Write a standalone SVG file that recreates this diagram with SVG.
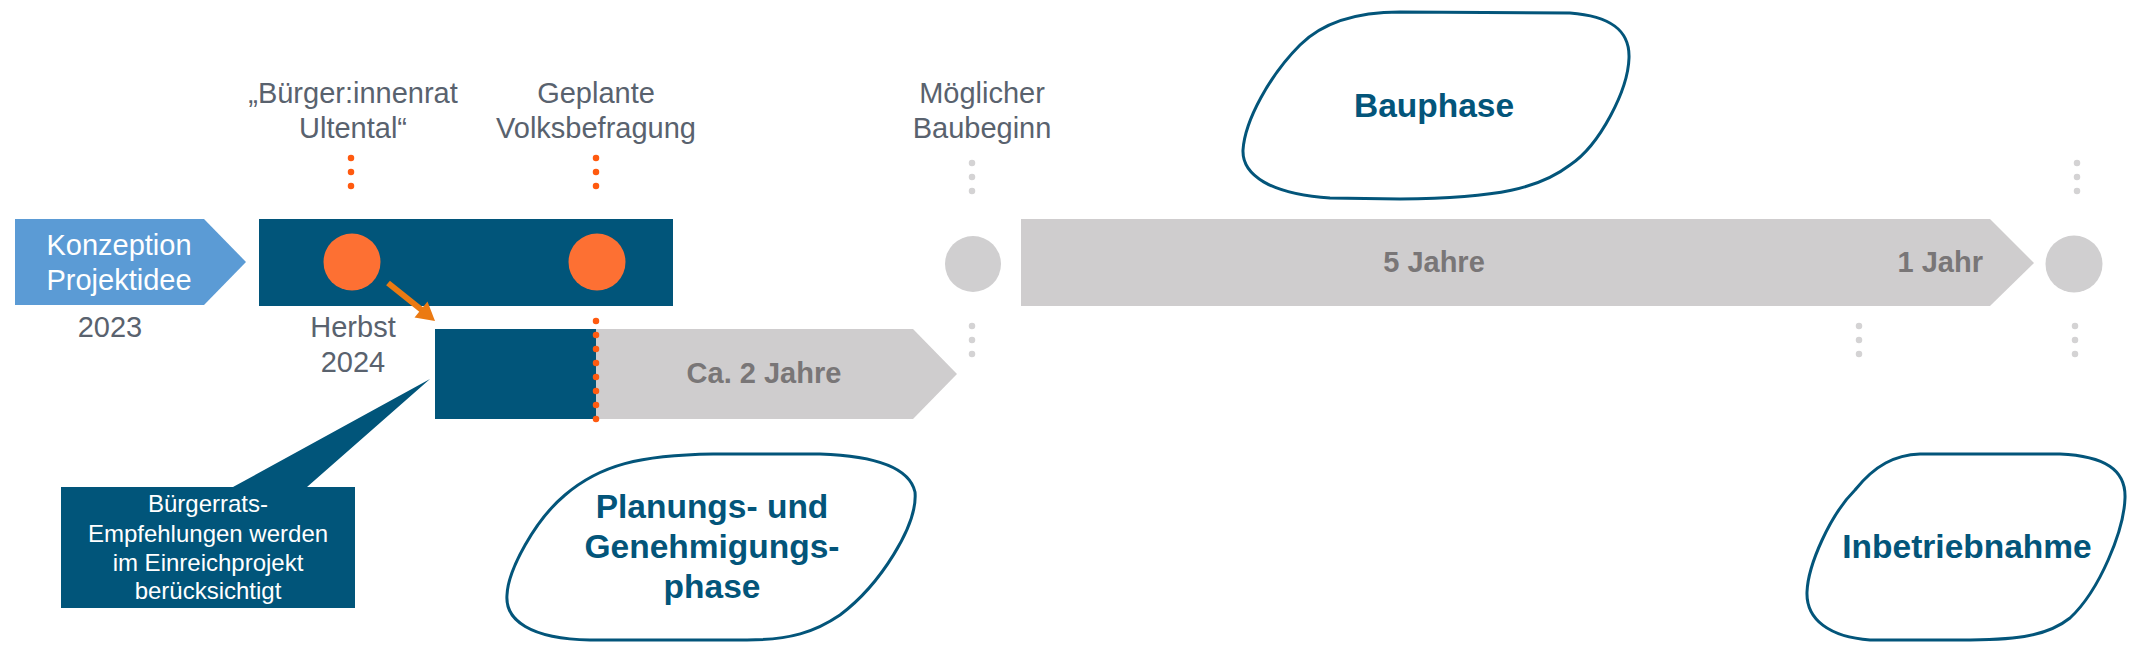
<svg xmlns="http://www.w3.org/2000/svg" width="2154" height="652" viewBox="0 0 2154 652">
<style>
.lbl{font-family:"Liberation Sans",Arial,sans-serif;font-size:29px;fill:#59626E;text-anchor:middle}
.wht{font-family:"Liberation Sans",Arial,sans-serif;font-size:29px;fill:#FFFFFF;text-anchor:middle}
.cal{font-family:"Liberation Sans",Arial,sans-serif;font-size:24px;fill:#FFFFFF;text-anchor:middle}
.bar{font-family:"Liberation Sans",Arial,sans-serif;font-size:29px;font-weight:bold;fill:#797677;text-anchor:middle}
.ph{font-family:"Liberation Sans",Arial,sans-serif;font-size:33.5px;font-weight:bold;fill:#03557A;text-anchor:middle}
.blob{fill:#FFFFFF;stroke:#03557A;stroke-width:3}
.dk{fill:#01557A}
.gr{fill:#CFCDCE}
.od{stroke:#FF5A0F;stroke-width:6.5;stroke-linecap:round;stroke-dasharray:0 14;fill:none}
.gd{stroke:#D4D3D4;stroke-width:6.5;stroke-linecap:round;stroke-dasharray:0 14;fill:none}
.oc{fill:#FD7033}
</style>
<rect width="2154" height="652" fill="#FFFFFF"/>

<g id="connectors">
  <line class="od" x1="351" y1="158" x2="351" y2="200"/>
  <line class="od" x1="596" y1="158" x2="596" y2="200"/>
  <line class="gd" x1="972" y1="163" x2="972" y2="205"/>
  <line class="gd" x1="972" y1="326" x2="972" y2="368"/>
  <line class="gd" x1="1859" y1="326" x2="1859" y2="368"/>
  <line class="gd" x1="2077" y1="163" x2="2077" y2="205"/>
  <line class="gd" x1="2075" y1="326" x2="2075" y2="368"/>
</g>

<g id="konzeption">
  <polygon points="15,219 204,219 246,262 204,305 15,305" fill="#5B9BD5"/>
  <text class="wht" x="119" y="255">Konzeption</text>
  <text class="wht" x="119" y="290">Projektidee</text>
  <text class="lbl" x="110" y="337">2023</text>
</g>

<g id="buergerrat-phase">
  <rect class="dk" x="259" y="219" width="414" height="87"/>
  <circle class="oc" cx="352" cy="262" r="28.5"/>
  <circle class="oc" cx="597" cy="262" r="28.5"/>
  <text class="lbl" x="353" y="103">„Bürger:innenrat</text>
  <text class="lbl" x="353" y="138">Ultental“</text>
  <text class="lbl" x="596" y="103">Geplante</text>
  <text class="lbl" x="596" y="138">Volksbefragung</text>
  <text class="lbl" x="353" y="337">Herbst</text>
  <text class="lbl" x="353" y="372">2024</text>
</g>

<g id="planung-bar">
  <polygon class="gr" points="596,329 913,329 957,374 913,419 596,419"/>
  <rect class="dk" x="435" y="329" width="161" height="90"/>
  <text class="bar" x="764" y="383">Ca. 2 Jahre</text>
</g>

<g id="vote-line">
  <line class="od" x1="596" y1="321" x2="596" y2="433"/>
</g>

<g id="arrow-buergerrat">
  <line x1="388" y1="283" x2="423" y2="311" stroke="#EB7A12" stroke-width="6"/>
  <polygon points="435,321 414.5,317.5 427.5,301.5" fill="#EB7A12"/>
</g>

<g id="callout">
  <polygon class="dk" points="61,487 233,487 430,379 307,487 355,487 355,608 61,608"/>
  <text class="cal" x="208" y="512">Bürgerrats-</text>
  <text class="cal" x="208" y="542">Empfehlungen werden</text>
  <text class="cal" x="208" y="571">im Einreichprojekt</text>
  <text class="cal" x="208" y="599">berücksichtigt</text>
</g>

<g id="baubeginn">
  <circle cx="973" cy="264" r="28" fill="#D0CFD0"/>
  <text class="lbl" x="982" y="103">Möglicher</text>
  <text class="lbl" x="982" y="138">Baubeginn</text>
</g>

<g id="bau-bar">
  <polygon class="gr" points="1021,219 1990,219 2034,263 1990,306 1021,306"/>
  <text class="bar" x="1434" y="272">5 Jahre</text>
  <text class="bar" x="1983" y="272" style="text-anchor:end">1 Jahr</text>
</g>

<g id="end">
  <circle cx="2074" cy="264" r="28.5" fill="#D0CFD0"/>
</g>

<g id="bauphase">
  <path class="blob" d="M 1400,12 L 1570,13 C 1610,16 1630,30 1629,58 C 1628,90 1600,145 1570,165 C 1540,188 1500,198 1400,199 L 1330,198 C 1270,194 1242,175 1243,150 C 1245,120 1270,75 1300,45 C 1325,20 1360,12 1400,12 Z"/>
  <text class="ph" x="1434" y="117">Bauphase</text>
</g>

<g id="planungsphase">
  <path class="blob" d="M 713,454 L 820,454 C 880,456 910,470 915,492 C 918,525 880,585 840,615 C 815,632 790,640 747,640 L 590,640 C 530,639 505,620 507,595 C 508,570 535,520 565,495 C 600,465 640,455 713,454 Z"/>
  <text class="ph" x="712" y="518">Planungs- und</text>
  <text class="ph" x="712" y="558">Genehmigungs-</text>
  <text class="ph" x="712" y="598">phase</text>
</g>

<g id="inbetriebnahme">
  <path class="blob" d="M 1920,454 L 2060,454 C 2105,456 2126,470 2125,498 C 2124,530 2100,590 2070,618 C 2045,638 2010,640 1960,640 L 1870,640 C 1830,637 1806,620 1807,592 C 1808,565 1830,515 1855,490 C 1875,465 1895,455 1920,454 Z"/>
  <text class="ph" x="1967" y="558">Inbetriebnahme</text>
</g>
</svg>
